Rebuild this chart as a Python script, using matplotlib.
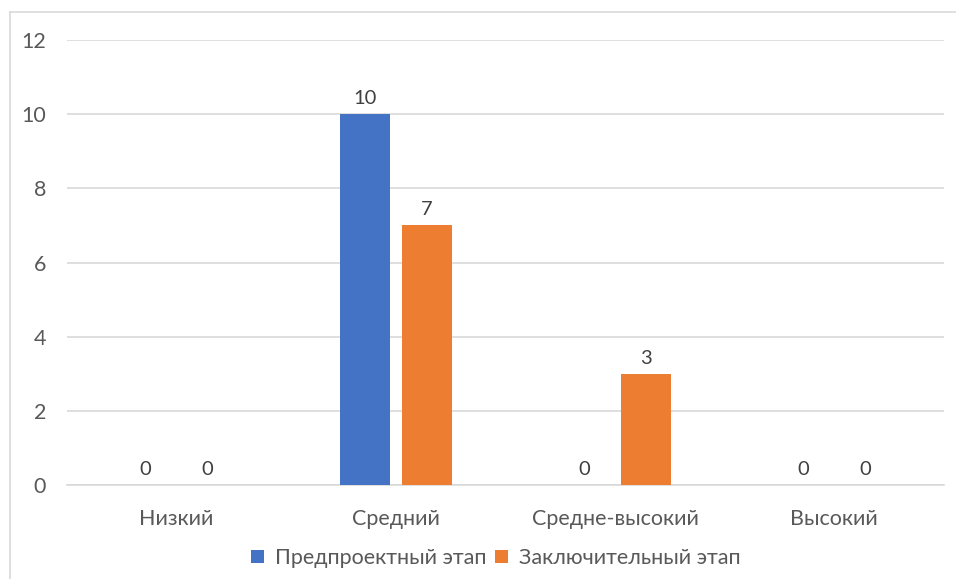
import numpy as np
import matplotlib.pyplot as plt
from matplotlib.lines import Line2D

# Данные
categories = ['Низкий', 'Средний', 'Средне-высокий', 'Высокий']
pre_stage = [0, 10, 0, 0]
final_stage = [0, 7, 3, 0]
series_names = ['Предпроектный этап', 'Заключительный этап']

plt.rcParams['font.family'] = ['Lato', 'DejaVu Sans']
txt_color = '#595959'

fig = plt.figure(figsize=(9.56, 5.79), dpi=100)
ax = fig.add_axes([67/956, 1-485/579, (944-67)/956, (485-40)/579])

x = np.arange(len(categories))
w = 0.228
off = 0.1415
b1 = ax.bar(x - off, pre_stage, w, color='#4472C4', zorder=3)
b2 = ax.bar(x + off, final_stage, w, color='#ED7D31', zorder=3)

for bars in (b1, b2):
    for r in bars:
        h = r.get_height()
        ax.annotate(f'{h:g}', (r.get_x() + r.get_width()/2, h),
                    xytext=(0, 5), textcoords='offset points',
                    ha='center', va='bottom', fontsize=14.5, color='#404040')

ax.set_xlim(-0.5, 3.5)
ax.set_ylim(0, 12)
ax.set_yticks(range(0, 13, 2))
ax.set_xticks(x)
ax.set_xticklabels(categories)
ax.yaxis.grid(True, color='#D9D9D9', linewidth=1.2, zorder=0)
ax.set_axisbelow(True)
for s in ['top', 'right', 'left']:
    ax.spines[s].set_visible(False)
ax.spines['bottom'].set_color('#D9D9D9')
ax.spines['bottom'].set_linewidth(1.2)
ax.tick_params(axis='both', length=0, labelsize=15.5, labelcolor=txt_color)
ax.tick_params(axis='y', pad=15)
ax.tick_params(axis='x', pad=17)

# рамка диаграммы (верх и левая сторона)
fig.add_artist(Line2D([10/956, 1.0], [1-12/579, 1-12/579], color='#D9D9D9', lw=1.2, transform=fig.transFigure))
fig.add_artist(Line2D([10/956, 10/956], [0, 1-12/579], color='#D9D9D9', lw=1.2, transform=fig.transFigure))

leg = fig.legend([b1, b2], series_names, loc='center', bbox_to_anchor=(496/956, 1-558/579),
                 ncol=2, frameon=False, fontsize=15.5, handlelength=0.6, handleheight=0.6,
                 columnspacing=0.4, handletextpad=0.5)
for t in leg.get_texts():
    t.set_color(txt_color)

fig.savefig('out.png', dpi=100)
